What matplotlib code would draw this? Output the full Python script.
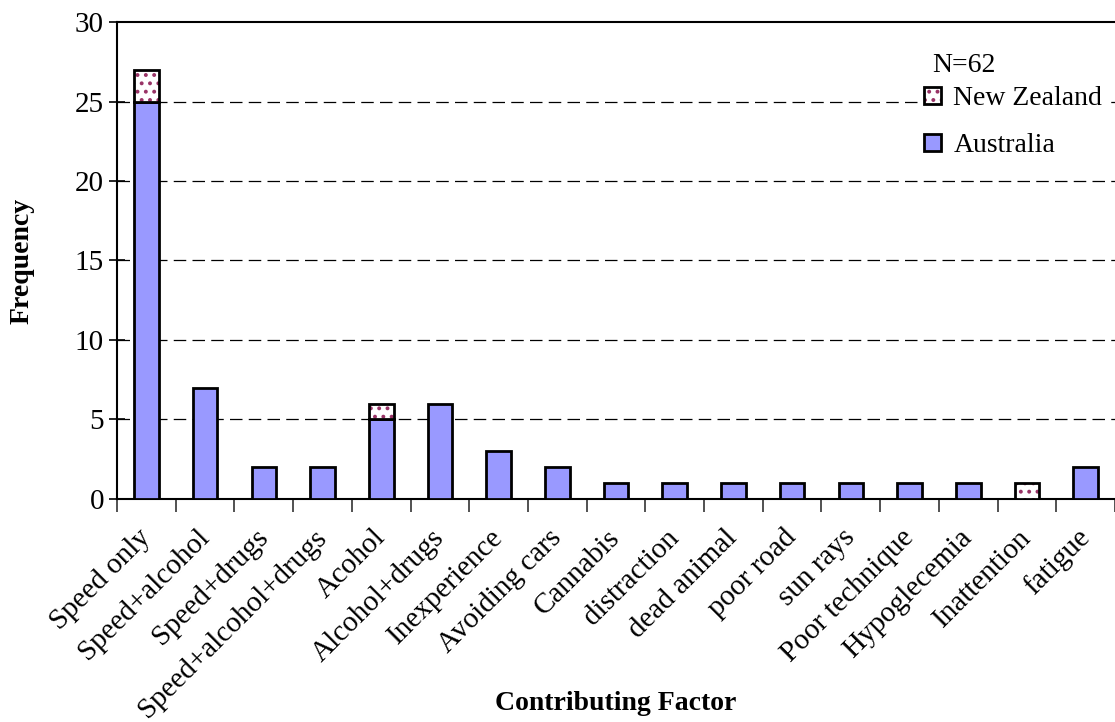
import numpy as np
import matplotlib
matplotlib.use("Agg")
import matplotlib.pyplot as plt
from matplotlib.patches import Patch
from matplotlib.legend_handler import HandlerTuple

plt.rcParams['font.family'] = ['Liberation Serif', 'DejaVu Serif']
plt.rcParams['hatch.linewidth'] = 1.6

factors = ['Speed only', 'Speed+alcohol', 'Speed+drugs', 'Speed+alcohol+drugs',
           'Acohol', 'Alcohol+drugs', 'Inexperience', 'Avoiding cars', 'Cannabis',
           'distraction', 'dead animal', 'poor road', 'sun rays', 'Poor technique',
           'Hypoglecemia', 'Inattention', 'fatigue']
australia = [25, 7, 2, 2, 5, 6, 3, 2, 1, 1, 1, 1, 1, 1, 1, 0, 2]
new_zealand = [2, 0, 0, 0, 1, 0, 0, 0, 0, 0, 0, 0, 0, 0, 0, 1, 0]

BLUE = '#9999FF'
DOT = '#993366'
FS = 20
TFS = 21

fig = plt.figure(figsize=(11.15, 7.22), dpi=100)
ax = fig.add_axes([0.105, 0.309, 0.895, 0.6605])

x = np.arange(len(factors))
w = 0.42
ax.bar(x, australia, w, color=BLUE, edgecolor='black', linewidth=2, zorder=3)
nz_mask = np.array(new_zealand) > 0
nz_x = x[nz_mask]
nz_h = np.array(new_zealand)[nz_mask]
nz_b = np.array(australia)[nz_mask]
ax.bar(nz_x, nz_h, w, bottom=nz_b, color='white', edgecolor=DOT,
       hatch='..', linewidth=0, zorder=3)
# black outline for NZ segments
ax.bar(nz_x, nz_h, w, bottom=nz_b, fill=False, edgecolor='black',
       linewidth=2, zorder=4)

ax.set_xlim(-0.5, len(factors) - 0.5)
ax.set_ylim(0, 30)
ax.set_yticks(range(0, 31, 5))
ax.tick_params(axis='y', labelsize=TFS, direction='inout', length=12, width=1.2)
for yv in range(5, 30, 5):
    ax.axhline(yv, color='black', linestyle=(0, (10, 5)), linewidth=0.9, zorder=1)

# category boundary ticks, labels at category centres
ax.set_xticks(np.arange(len(factors) + 1) - 0.5, minor=False)
ax.set_xticklabels([])
ax.tick_params(axis='x', direction='out', length=9, width=1.2, color='#333333')
ax.set_xticks(x, minor=True)
ax.set_xticklabels(factors, minor=True, rotation=45, ha='right', va='center',
                   rotation_mode='anchor', fontsize=TFS)
ax.tick_params(axis='x', which='minor', length=0, pad=25)

for s in ['left', 'bottom', 'top']:
    ax.spines[s].set_linewidth(1.5)
ax.spines['right'].set_visible(False)

ax.set_ylabel('Frequency', fontsize=FS, fontweight='bold', va='center')
ax.yaxis.set_label_coords(-0.095, 0.5)
ax.set_xlabel('Contributing Factor', fontsize=FS, fontweight='bold', va='center')
ax.xaxis.set_label_coords(0.5, -0.428)

fig.text(932 / 1115, 1 - 65 / 722, 'N=62', fontsize=FS, ha='left', va='center')
nz_handle = (Patch(facecolor='white', edgecolor=DOT, hatch='..', linewidth=0),
             Patch(fill=False, edgecolor='black', linewidth=2))
au_handle = Patch(facecolor=BLUE, edgecolor='black', linewidth=2)
leg = ax.legend([nz_handle, au_handle], ['New Zealand', 'Australia'],
                loc='upper left', bbox_to_anchor=(920 / 1115, 1 - 82 / 722),
                bbox_transform=fig.transFigure, frameon=True, facecolor='white',
                edgecolor='none', framealpha=1, fancybox=False,
                fontsize=FS, handlelength=0.6, handleheight=0.6,
                handletextpad=0.45, labelspacing=0.8, borderpad=0.15, borderaxespad=0,
                handler_map={tuple: HandlerTuple(ndivide=1, pad=0)})
leg.set_zorder(5)

fig.savefig('out.png', dpi=100)
